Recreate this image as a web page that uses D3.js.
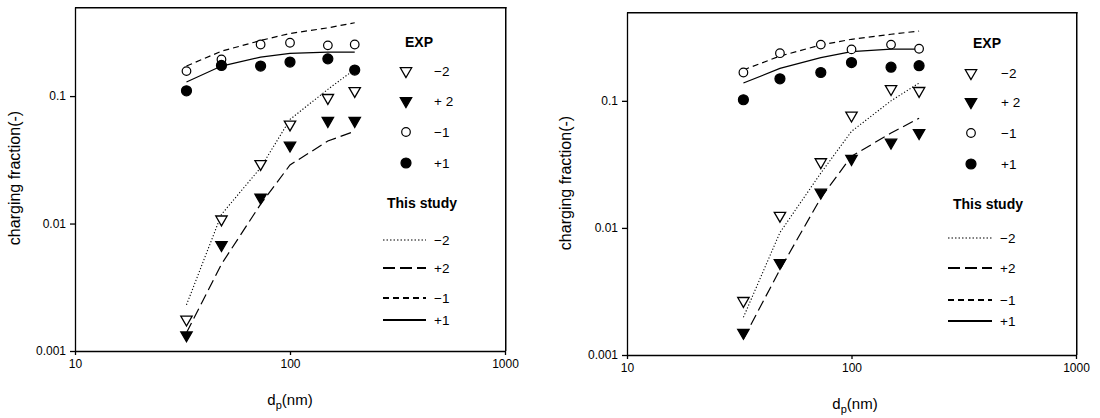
<!DOCTYPE html>
<html lang="en">
<head>
<meta charset="utf-8">
<title>charging fraction</title>
<script src="https://d3js.org/d3.v7.min.js"></script>
<style>
  body { margin: 0; background: #fff; }
  svg text { font-family: "Liberation Sans", Arial, sans-serif; fill: #000; }
  .tick text { font-size: 12px; }
  .axis path, .axis line { stroke: #000; stroke-width: 1.3; }
  .ttl { font-size: 16px; }
  .xttl { font-size: 15px; }
  .lgh { font-size: 14px; font-weight: bold; }
  .lgt { font-size: 13.5px; }
</style>
</head>
<body>
<div id="chart"></div>
<script>
// particle diameter (nm)
var dp = [33, 48, 73, 100, 150, 200];

// left panel: experiment
var expA_m2 = [0.00177, 0.0108, 0.0294, 0.060, 0.097, 0.110];
var expA_p2 = [0.00133, 0.0068, 0.016, 0.041, 0.064, 0.064];
var expA_m1 = [0.157, 0.194, 0.254, 0.262, 0.250, 0.254];
var expA_p1 = [0.110, 0.174, 0.172, 0.185, 0.196, 0.160];
// left panel: this study
var modA_m2 = [0.0023, 0.0118, 0.0274, 0.0656, 0.113, 0.162];
var modA_p2 = [0.00139, 0.0048, 0.0142, 0.0288, 0.0444, 0.053];
var modA_m1 = [0.172, 0.225, 0.273, 0.310, 0.343, 0.376];
var modA_p1 = [0.129, 0.172, 0.202, 0.216, 0.221, 0.221];

// right panel: experiment
var expB_m2 = [0.00267, 0.0125, 0.033, 0.0767, 0.124, 0.120];
var expB_p2 = [0.0015, 0.0053, 0.019, 0.035, 0.047, 0.056];
var expB_m1 = [0.167, 0.237, 0.277, 0.254, 0.277, 0.257];
var expB_p1 = [0.102, 0.149, 0.167, 0.200, 0.184, 0.189];
// right panel: this study
var modB_m2 = [0.00198, 0.0092, 0.027, 0.0575, 0.100, 0.138];
var modB_p2 = [0.00134, 0.0047, 0.0172, 0.0366, 0.0558, 0.073];
var modB_m1 = [0.175, 0.225, 0.275, 0.305, 0.334, 0.354];
var modB_p1 = [0.138, 0.180, 0.219, 0.244, 0.255, 0.255];

var xTicks = [10, 100, 1000];
var yTicks = [0.001, 0.01, 0.1];
var xDomain = [10, 1000];
var yDomain = [0.001, 0.5];

var expLabels = ["\u22122", "+ 2", "\u22121", "+1"];
var modLabels = ["\u22122", "+2", "\u22121", "+1"];

var W = 1100, H = 418;
var svg = d3.select("#chart").append("svg").attr("width", W).attr("height", H);

// layout of the two panels
var panels = [
  { l: 75, r: 505, t: 7, b: 351, ylx: 20, yly: 178, xlx: 290, xly: 405,
    exp: [expA_m2, expA_p2, expA_m1, expA_p1], mod: [modA_m2, modA_p2, modA_m1, modA_p1],
    lg: { hx: 419, hy: 42, sx: 406, tx: 434, rows: [71, 101, 132, 163],
          sty: 203, sxc: 422, lx1: 383, lx2: 426, ltx: 434, lrows: [240, 268, 298, 320] } },
  { l: 627, r: 1076, t: 12, b: 355, ylx: 571, yly: 183, xlx: 855, xly: 409,
    exp: [expB_m2, expB_p2, expB_m1, expB_p1], mod: [modB_m2, modB_p2, modB_m1, modB_p1],
    lg: { hx: 987, hy: 43, sx: 971, tx: 1001, rows: [73, 102, 133, 164],
          sty: 204, sxc: 988, lx1: 948, lx2: 992, ltx: 1000, lrows: [238, 268, 300, 321] } }
];

var dashes = ["1.2,2", "11,5", "6,4", null];
var fmt = function(d) { return d >= 1 ? d3.format("d")(d) : String(d); };

function marker(g, type, x, y) {
  // type 0: open down-triangle, 1: filled down-triangle, 2: open circle, 3: filled circle
  if (type < 2) {
    g.append("path")
      .attr("d", d3.symbol().type(d3.symbolTriangle).size(56)())
      .attr("transform", "translate(" + x + "," + y + ") rotate(180)")
      .attr("fill", type == 1 ? "#000" : "#fff")
      .attr("stroke", "#000").attr("stroke-width", 1.3);
  } else {
    g.append("circle").attr("cx", x).attr("cy", y)
      .attr("r", type == 3 ? 5 : 4.3)
      .attr("fill", type == 3 ? "#000" : "#fff")
      .attr("stroke", "#000").attr("stroke-width", 1.2);
  }
}

panels.forEach(function(p) {
  var x = d3.scaleLog().domain(xDomain).range([p.l, p.r]);
  var y = d3.scaleLog().domain(yDomain).range([p.b, p.t]);
  var g = svg.append("g");

  // top and right edges of the frame, as thin filled bars
  var x0 = x(xDomain[0]), x1 = x(xDomain[1]), y0 = y(yDomain[0]), y1 = y(yDomain[1]);
  g.append("rect").attr("x", x0).attr("y", y1).attr("width", x1 - x0 + 1.5).attr("height", 1.5)
    .style("fill", "#000");
  g.append("rect").attr("x", x1).attr("y", y1).attr("width", 1.5).attr("height", y0 - y1)
    .style("fill", "#000");

  g.append("g").attr("class", "axis")
    .attr("transform", "translate(0," + p.b + ")")
    .call(d3.axisBottom(x).tickValues(xTicks).tickFormat(fmt).tickSizeInner(4).tickSizeOuter(0).tickPadding(4));

  g.append("g").attr("class", "axis")
    .attr("transform", "translate(" + p.l + ",0)")
    .call(d3.axisLeft(y).tickValues(yTicks).tickFormat(fmt).tickSizeInner(5).tickSizeOuter(0).tickPadding(4));

  // model curves
  var line = d3.line().x(function(d, i) { return x(dp[i]); }).y(function(d) { return y(d); });
  p.mod.forEach(function(s, k) {
    g.append("path").datum(s).attr("d", line)
      .attr("fill", "none").attr("stroke", "#000").attr("stroke-width", k == 0 ? 1.1 : 1.2)
      .attr("stroke-dasharray", dashes[k]);
  });

  // experimental points
  p.exp.forEach(function(s, k) {
    s.forEach(function(v, i) { marker(g, k, x(dp[i]), y(v)); });
  });

  // axis titles
  g.append("text").attr("class", "ttl")
    .attr("transform", "translate(" + p.ylx + "," + p.yly + ") rotate(-90)")
    .attr("text-anchor", "middle")
    .text("charging fraction(-)");

  var xt = g.append("text").attr("class", "xttl")
    .attr("x", p.xlx).attr("y", p.xly).attr("text-anchor", "middle");
  xt.append("tspan").text("d");
  xt.append("tspan").attr("dy", 4).style("font-size", "11px").text("p");
  xt.append("tspan").attr("dy", -4).text("(nm)");

  // legend
  var L = p.lg;
  g.append("text").attr("class", "lgh").attr("x", L.hx).attr("y", L.hy)
    .attr("dy", "0.35em").attr("text-anchor", "middle").text("EXP");
  L.rows.forEach(function(ry, k) {
    marker(g, k, L.sx, ry);
    g.append("text").attr("class", "lgt").attr("x", L.tx).attr("y", ry)
      .attr("dy", "0.35em").text(expLabels[k]);
  });
  g.append("text").attr("class", "lgh").attr("x", L.sxc).attr("y", L.sty)
    .attr("dy", "0.35em").attr("text-anchor", "middle").text("This study");
  L.lrows.forEach(function(ry, k) {
    g.append("line").attr("x1", L.lx1).attr("x2", L.lx2).attr("y1", ry).attr("y2", ry)
      .attr("stroke", "#000").attr("stroke-width", k == 0 ? 1.2 : 2)
      .attr("stroke-dasharray", k == 0 ? "1.5,2" : (k == 1 ? "12,5" : dashes[k]));
    g.append("text").attr("class", "lgt").attr("x", L.ltx).attr("y", ry)
      .attr("dy", "0.35em").text(modLabels[k]);
  });
});
</script>
</body>
</html>
